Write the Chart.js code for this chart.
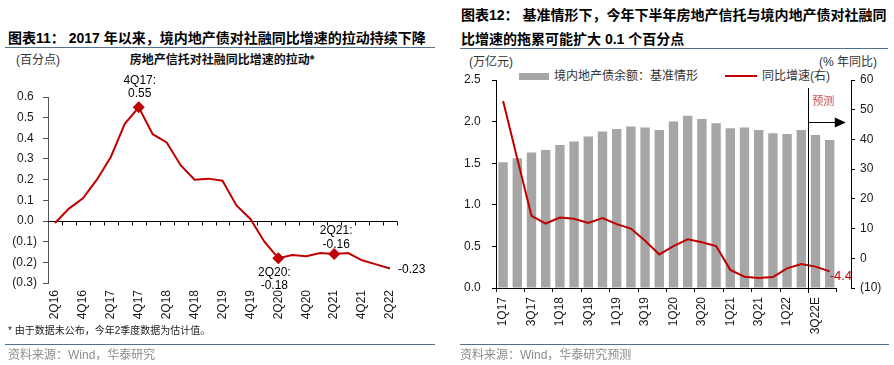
<!DOCTYPE html>
<html>
<head>
<meta charset="utf-8">
<script src="https://cdn.jsdelivr.net/npm/chart.js@4.4.1/dist/chart.umd.min.js"></script>
<style>
  body { margin: 0; width: 894px; height: 365px; background: #fff; position: relative; overflow: hidden;
         font-family: 'Liberation Sans', 'Noto Sans CJK SC', sans-serif; color: #222; }
  .abs { position: absolute; white-space: nowrap; }
  .title { font-weight: bold; font-size: 14px; line-height: 16px; color: #000; }
  .rule { position: absolute; height: 0; border-top: 1px solid #52708f; }
  .src { font-size: 12px; line-height: 14px; color: #8c8c8c; }
  .unit { font-size: 12px; line-height: 14px; color: #333; }
  canvas { position: absolute; }
</style>
</head>
<body>

<!-- 图表11 -->
<div class="abs title" style="left:8px; top:30px;">图表11：&nbsp;2017 年以来，境内地产债对社融同比增速的拉动持续下降</div>
<div class="rule" style="left:5px; top:47px; width:430px;"></div>
<div class="abs unit" style="left:16px; top:53px;">(百分点)</div>
<div class="abs unit" style="left:222px; top:53px; transform:translateX(-50%); font-weight:bold; color:#111;">房地产信托对社融同比增速的拉动*</div>
<canvas id="c11" width="447" height="280" style="left:0; top:60px;"></canvas>
<div class="abs" style="left:8px; top:325px; font-size:10px; line-height:12px; color:#222;">* 由于数据未公布，今年2季度数据为估计值。</div>
<div class="rule" style="left:5px; top:344px; width:430px;"></div>
<div class="abs src" style="left:8px; top:348px;">资料来源：Wind，华泰研究</div>

<!-- 图表12 -->
<div class="abs title" style="left:461px; top:7px;">图表12：&nbsp;基准情形下，今年下半年房地产信托与境内地产债对社融同</div>
<div class="abs title" style="left:461px; top:31px;">比增速的拖累可能扩大 0.1 个百分点</div>
<div class="rule" style="left:460px; top:48px; width:428px;"></div>
<div class="abs unit" style="left:469px; top:55px;">(万亿元)</div>
<div class="abs unit" style="right:17px; top:55px;">(% 年同比)</div>
<div class="abs" style="left:519px; top:73px; width:30px; height:7px; background:#a6a6a6;"></div>
<div class="abs unit" style="left:554px; top:69px;">境内地产债余额：基准情形</div>
<div class="abs" style="left:725px; top:75px; width:32px; height:2px; background:#c00000;"></div>
<div class="abs unit" style="left:762px; top:69px;">同比增速(右)</div>
<canvas id="c12" width="447" height="280" style="left:447px; top:60px;"></canvas>
<div class="rule" style="left:460px; top:344px; width:429px;"></div>
<div class="abs src" style="left:460px; top:348px;">资料来源：Wind，华泰研究预测</div>

<script>
// 图表11：房地产信托对社融同比增速的拉动（百分点）
const QUARTERS_11 = ['2Q16', '3Q16', '4Q16', '1Q17', '2Q17', '3Q17', '4Q17', '1Q18', '2Q18',
  '3Q18', '4Q18', '1Q19', '2Q19', '3Q19', '4Q19', '1Q20', '2Q20', '3Q20', '4Q20', '1Q21',
  '2Q21', '3Q21', '4Q21', '1Q22', '2Q22'];
const PULL_11 = [-0.01, 0.06, 0.11, 0.20, 0.31, 0.47, 0.55, 0.42, 0.38, 0.27, 0.20, 0.205,
  0.195, 0.075, 0.01, -0.10, -0.18, -0.165, -0.17, -0.155, -0.16, -0.155, -0.19, -0.21, -0.23];
const CALLOUTS_11 = ['4Q17', '2Q20', '2Q21'];

// 图表12：境内地产债余额（万亿元）与同比增速（%）
const QUARTERS_12 = ['1Q17', '2Q17', '3Q17', '4Q17', '1Q18', '2Q18', '3Q18', '4Q18', '1Q19',
  '2Q19', '3Q19', '4Q19', '1Q20', '2Q20', '3Q20', '4Q20', '1Q21', '2Q21', '3Q21', '4Q21',
  '1Q22', '2Q22', '3Q22E', '4Q22E'];
const BOND_BAL_12 = [1.51, 1.56, 1.63, 1.66, 1.72, 1.76, 1.82, 1.88, 1.91, 1.94, 1.93, 1.90,
  2.00, 2.07, 2.03, 1.98, 1.92, 1.93, 1.90, 1.86, 1.85, 1.90, 1.84, 1.78];
const BOND_YOY_12 = [52.9, 33.5, 14.3, 11.7, 13.7, 13.3, 11.9, 13.5, 11.5, 10.0, 5.9, 1.3,
  4.1, 6.4, 5.4, 4.1, -3.9, -6.2, -6.6, -6.3, -3.4, -1.9, -2.8, -4.4];
const FORECAST_FROM = '3Q22E';
const FORECAST_TEXT = '预测';

const RED = '#c00000';
const BAR_GREY = '#a6a6a6';
const TICK_COLOR = '#1a1a1a';
const FONT = { family: "'Liberation Sans', 'Noto Sans CJK SC', sans-serif", size: 12 };

// callout placement: first-line offset from the marker, small x nudge
const CALLOUT_POS_11 = { '4Q17': { dy: -27, dx: 1 }, '2Q20': { dy: 14, dx: -4 }, '2Q21': { dy: -23, dx: 2 } };

// Excel style 0.0_);(0.0)
function fmtParen(v) {
  const s = Math.abs(v).toFixed(1);
  return v < -1e-9 ? '(' + s + ')' : s + ' ';
}

function everyOther(v, i) {
  return i % 2 === 0 ? this.getLabelForValue(v) : '';
}

/* ── chart 11 ─────────────────────────────────────────────── */

const zeroAxis11 = {
  id: 'zeroAxis11',
  beforeDatasetsDraw(chart) {
    const { ctx, chartArea: a, scales: { x, y } } = chart;
    const y0 = Math.round(y.getPixelForValue(0)) + 0.5;
    const x0 = x.getPixelForValue(0);
    const step = x.getPixelForValue(1) - x0;
    ctx.save();
    ctx.strokeStyle = '#000';
    ctx.lineWidth = 1;
    ctx.beginPath();
    ctx.moveTo(a.left, y0);
    ctx.lineTo(a.right, y0);
    for (let i = 1; i <= QUARTERS_11.length; i++) {
      const px = Math.round(x0 + (i - 0.5) * step) + 0.5;
      ctx.moveTo(px, y0);
      ctx.lineTo(px, y0 + 4);
    }
    ctx.stroke();
    ctx.restore();
  }
};

const callouts11 = {
  id: 'callouts11',
  afterDatasetsDraw(chart) {
    const { ctx } = chart;
    const pts = chart.getDatasetMeta(0).data;
    ctx.save();
    ctx.font = `${FONT.size}px ${FONT.family}`;
    ctx.fillStyle = '#000';
    ctx.textBaseline = 'middle';
    ctx.textAlign = 'center';
    CALLOUTS_11.forEach(q => {
      const i = QUARTERS_11.indexOf(q);
      const p = pts[i];
      const pos = CALLOUT_POS_11[q];
      ctx.fillText(q + ':', p.x + pos.dx, p.y + pos.dy);
      ctx.fillText(PULL_11[i].toFixed(2), p.x + pos.dx, p.y + pos.dy + 13.5);
    });
    const last = pts[pts.length - 1];
    ctx.textAlign = 'left';
    ctx.fillText(PULL_11[PULL_11.length - 1].toFixed(2), last.x + 8, last.y + 1);
    ctx.restore();
  }
};

new Chart(document.getElementById('c11'), {
  type: 'line',
  data: {
    labels: QUARTERS_11,
    datasets: [{
      data: PULL_11,
      borderColor: RED,
      borderWidth: 2,
      tension: 0,
      pointStyle: 'rectRot',
      pointRadius: QUARTERS_11.map(q => CALLOUTS_11.includes(q) ? 6 : 0),
      pointBackgroundColor: RED,
      pointBorderColor: RED,
      pointBorderWidth: 0
    }]
  },
  options: {
    responsive: false,
    animation: false,
    layout: { padding: { top: 37, right: 50, bottom: 0, left: 0 } },
    plugins: { legend: { display: false }, tooltip: { enabled: false } },
    scales: {
      x: {
        offset: true,
        grid: { display: false, drawTicks: false },
        border: { display: false },
        ticks: { autoSkip: false, minRotation: 90, maxRotation: 90, padding: 7,
                 color: TICK_COLOR, font: FONT, callback: everyOther },
        afterFit(s) { s.height = 57; }
      },
      y: {
        min: -0.3,
        max: 0.6,
        ticks: { stepSize: 0.1, padding: 6, color: TICK_COLOR, font: FONT, callback: fmtParen },
        grid: { drawOnChartArea: false, tickLength: 5, color: '#555' },
        border: { color: '#555' },
        afterFit(s) { s.width = 48; }
      }
    }
  },
  plugins: [zeroAxis11, callouts11]
});

/* ── chart 12 ─────────────────────────────────────────────── */

const axisAndForecast12 = {
  id: 'axisAndForecast12',
  afterDatasetsDraw(chart) {
    const { ctx, chartArea: a, scales: { x, y1 } } = chart;
    const x0 = x.getPixelForValue(0);
    const step = x.getPixelForValue(1) - x0;
    const yb = Math.round(a.bottom) + 0.5;
    const axisEnd = x0 + (QUARTERS_12.length - 0.5) * step;
    ctx.save();
    ctx.strokeStyle = '#000';
    ctx.fillStyle = '#000';
    ctx.lineWidth = 1;
    // category axis stops at the last quarter
    ctx.beginPath();
    ctx.moveTo(a.left, yb);
    ctx.lineTo(axisEnd, yb);
    ctx.stroke();

    // forecast divider + arrow
    const fi = QUARTERS_12.indexOf(FORECAST_FROM);
    const xd = Math.round(x0 + (fi - 0.5) * step) + 0.5;
    ctx.beginPath();
    ctx.moveTo(xd, a.top + 8);
    ctx.lineTo(xd, a.bottom + 5);
    ctx.stroke();
    const ya = Math.round(y1.getPixelForValue(46)) + 0.5;
    const tip = axisEnd + 9;
    ctx.beginPath();
    ctx.moveTo(xd, ya);
    ctx.lineTo(tip - 9, ya);
    ctx.stroke();
    ctx.beginPath();
    ctx.moveTo(tip, ya);
    ctx.lineTo(tip - 11, ya - 5);
    ctx.lineTo(tip - 11, ya + 5);
    ctx.closePath();
    ctx.fill();

    ctx.font = `11px ${FONT.family}`;
    ctx.fillStyle = '#c0504d';
    ctx.textAlign = 'center';
    ctx.textBaseline = 'middle';
    ctx.fillText(FORECAST_TEXT, (xd + tip) / 2 - 4, y1.getPixelForValue(52.5));

    // end value label
    const pts = chart.getDatasetMeta(0).data;
    const last = pts[pts.length - 1];
    ctx.font = `13px ${FONT.family}`;
    ctx.fillStyle = RED;
    ctx.textAlign = 'left';
    ctx.fillText(BOND_YOY_12[BOND_YOY_12.length - 1].toFixed(1), last.x, last.y + 5);
    ctx.restore();
  }
};

new Chart(document.getElementById('c12'), {
  type: 'bar',
  data: {
    // trailing blank slot leaves the gap before the right-hand axis
    labels: [...QUARTERS_12, ''],
    datasets: [
      { type: 'line', label: '同比增速(右)', data: BOND_YOY_12, yAxisID: 'y1', order: 0,
        borderColor: RED, borderWidth: 2, pointRadius: 0, tension: 0 },
      { type: 'bar', label: '境内地产债余额：基准情形', data: BOND_BAL_12, yAxisID: 'y', order: 1,
        backgroundColor: BAR_GREY, barPercentage: 0.66, categoryPercentage: 1 }
    ]
  },
  options: {
    responsive: false,
    animation: false,
    layout: { padding: { top: 20, right: 0, bottom: 0, left: 0 } },
    plugins: { legend: { display: false }, tooltip: { enabled: false } },
    scales: {
      x: {
        offset: true,
        grid: {
          offset: true, drawOnChartArea: false, tickLength: 4,
          color: c => (c.index !== undefined && c.index % 2 === 0) ? '#000' : 'rgba(0,0,0,0)'
        },
        border: { display: false },
        ticks: { autoSkip: false, minRotation: 90, maxRotation: 90, padding: 5,
                 color: TICK_COLOR, font: FONT, callback: everyOther },
        afterFit(s) { s.height = 52; }
      },
      y: {
        position: 'left',
        min: 0,
        max: 2.5,
        ticks: { stepSize: 0.5, padding: 8, color: TICK_COLOR, font: FONT, callback: v => v.toFixed(1) + ' ' },
        grid: { drawOnChartArea: false, tickLength: 4, color: '#000' },
        border: { color: '#000' },
        afterFit(s) { s.width = 49; }
      },
      y1: {
        position: 'right',
        min: -10,
        max: 60,
        ticks: { stepSize: 10, padding: 5, color: TICK_COLOR, font: FONT,
                 callback: v => v < 0 ? '(' + (-v) + ')' : String(v) },
        grid: { drawOnChartArea: false, tickLength: 4, color: '#000' },
        border: { color: '#000' },
        afterFit(s) { s.width = 43; }
      }
    }
  },
  plugins: [axisAndForecast12]
});
</script>
</body>
</html>
